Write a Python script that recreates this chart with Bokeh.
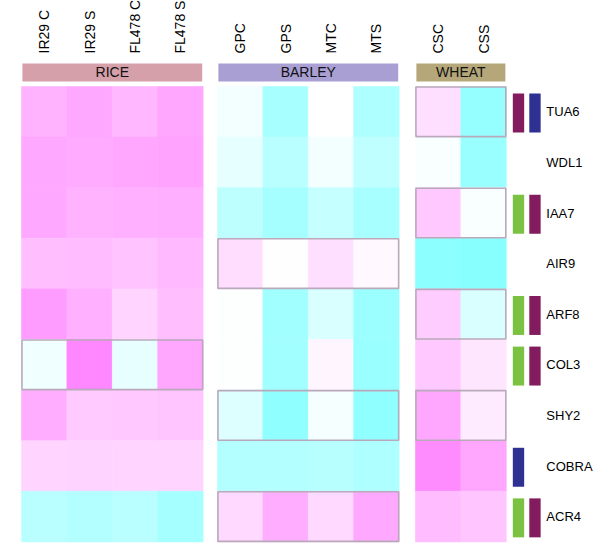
from bokeh.plotting import figure
from bokeh.models import Range1d, ColumnDataSource, LinearColorMapper
from bokeh.core.properties import value
from bokeh.embed import file_html
from bokeh.resources import INLINE

# ---------------- data ----------------
genes = ["TUA6", "WDL1", "IAA7", "AIR9", "ARF8", "COL3", "SHY2", "COBRA", "ACR4"]

rice_cols = ["IR29 C", "IR29 S", "FL478 C", "FL478 S"]
barley_cols = ["GPC", "GPS", "MTC", "MTS"]
wheat_cols = ["CSC", "CSS"]

# relative expression (+ = pink/up, - = cyan/down), one list per gene row
rice_vals = [
    [0.60, 0.68, 0.57, 0.70],
    [0.68, 0.66, 0.70, 0.72],
    [0.68, 0.60, 0.62, 0.63],
    [0.50, 0.52, 0.47, 0.54],
    [0.78, 0.62, 0.33, 0.50],
    [-0.12, 0.94, -0.18, 0.70],
    [0.64, 0.42, 0.43, 0.46],
    [0.33, 0.35, 0.33, 0.33],
    [-0.54, -0.60, -0.54, -0.70],
]
barley_vals = [
    [-0.10, -0.68, 0.00, -0.64],
    [-0.20, -0.54, -0.10, -0.50],
    [-0.52, -0.70, -0.46, -0.68],
    [0.27, 0.01, 0.25, 0.06],
    [-0.02, -0.74, -0.30, -0.78],
    [-0.02, -0.74, 0.08, -0.80],
    [-0.27, -0.87, -0.08, -0.87],
    [-0.60, -0.60, -0.57, -0.64],
    [0.30, 0.64, 0.30, 0.68],
]
wheat_vals = [
    [0.25, -0.83],
    [-0.05, -0.80],
    [0.43, -0.05],
    [-0.90, -0.93],
    [0.40, -0.30],
    [0.43, 0.20],
    [0.70, 0.16],
    [0.90, 0.70],
    [0.53, 0.46],
]

rice_boxed = ["COL3"]
barley_boxed = ["AIR9", "SHY2", "ACR4"]
wheat_boxed = ["TUA6", "IAA7", "ARF8", "SHY2"]

green_marks = ["IAA7", "ARF8", "COL3", "ACR4"]
purple_marks = ["TUA6", "IAA7", "ARF8", "COL3", "ACR4"]
blue_marks = ["TUA6", "COBRA"]

# ---------------- styling / layout ----------------
def lerp(c1, c2, t):
    return "#%02x%02x%02x" % tuple(int(round(a + (b - a) * t)) for a, b in zip(c1, c2))

cyan = (128, 255, 255)
white = (255, 255, 255)
magenta = (255, 128, 255)
palette = [lerp(cyan, white, i / 127) for i in range(128)] + \
          [lerp(white, magenta, i / 127) for i in range(128)]
mapper = LinearColorMapper(palette=palette, low=-1, high=1)

panels = [
    ("RICE", rice_cols, rice_vals, rice_boxed, 0.0, "#d5a0a9"),
    ("BARLEY", barley_cols, barley_vals, barley_boxed, 4.317, "#a99fd3"),
    ("WHEAT", wheat_cols, wheat_vals, wheat_boxed, 8.678, "#b5a779"),
]

W, H = 600, 551
CW, RH = 45.4, 50.6          # cell width / row height in px
X0, Y0 = 21.0, 86.0          # pixel position of the first cell
p = figure(width=W, height=H, output_backend="svg", toolbar_location=None,
           x_range=Range1d(-X0 / CW, (W - X0) / CW),
           y_range=Range1d((H - Y0) / RH, -Y0 / RH),
           x_axis_type=None, y_axis_type=None, min_border=0,
           outline_line_color=None, background_fill_color="white")
p.grid.visible = False

font = value("Liberation Sans")

for name, cols, vals, boxed, x0, hcol in panels:
    xs, ys, vs = [], [], []
    for r, g in enumerate(genes):
        for c in range(len(cols)):
            xs.append(x0 + c + 0.5)
            ys.append(r + 0.5)
            vs.append(vals[r][c])
    src = ColumnDataSource(dict(x=xs, y=ys, v=vs))
    p.rect(x="x", y="y", width=1.0, height=1.0, source=src,
           fill_color={"field": "v", "transform": mapper},
           line_color={"field": "v", "transform": mapper}, line_width=0.6)
    # header bar
    n = len(cols)
    p.quad(left=[x0 + 0.02], right=[x0 + n - 0.02], top=[-0.4545], bottom=[-0.099],
           fill_color=hcol, line_color=None)
    p.text(x=[x0 + n / 2], y=[-0.277], text=[name], text_font=font,
           text_font_size="14px", text_align="center", text_baseline="middle",
           text_color="#111111")
    # column labels
    p.text(x=[x0 + c + 0.5 for c in range(n)], y=[-0.652] * n, text=cols,
           angle=1.5708, text_font=font, text_font_size="14px",
           text_align="left", text_baseline="middle", text_color="black")
    # boxes
    rows = [genes.index(g) for g in boxed]
    p.quad(left=[x0 + 0.01] * len(rows), right=[x0 + n - 0.01] * len(rows),
           top=[r + 0.01 for r in rows], bottom=[r + 0.99 for r in rows],
           fill_color=None, line_color="#b9a9bb", line_width=1.6)

# annotation bars
slot_x = [10.947, 11.31]
mark_sets = [(green_marks, "#7cc242"), (purple_marks, "#821c5e"), (blue_marks, "#2e3192")]
bx, by, bc = [], [], []
for r, g in enumerate(genes):
    k = 0
    for marks, col in mark_sets:
        if g in marks:
            bx.append(slot_x[k])
            by.append(r + 0.525)
            bc.append(col)
            k += 1
p.rect(x=bx, y=by, width=0.25, height=0.77, fill_color=bc, line_color=None)

# gene labels
p.text(x=[11.56] * len(genes), y=[r + 0.5 for r in range(len(genes))], text=genes,
       text_font=font, text_font_size="13px", text_align="left",
       text_baseline="middle", text_color="black")

open("out.html", "w").write(file_html(p, INLINE))
